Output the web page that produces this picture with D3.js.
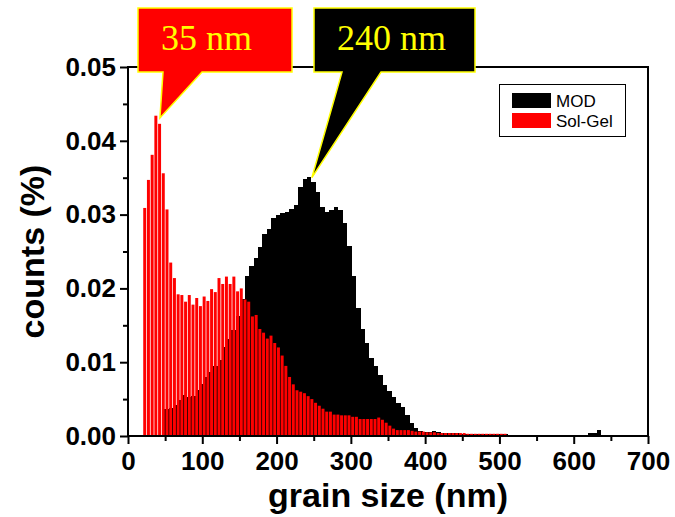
<!DOCTYPE html>
<html>
<head>
<meta charset="utf-8">
<script src="https://cdn.jsdelivr.net/npm/d3@7"></script>
<style>
  html, body { margin: 0; padding: 0; background: #fff; }
  svg { display: block; }
</style>
</head>
<body>
<svg id="chart" width="675" height="517"></svg>
<script>
// Sol-Gel grain size histogram: 5 nm bins starting at 20 nm
const solGelBinStart = 20;
const solGelBinWidth = 5;
const solGelCounts = [
  0.0309, 0.0347, 0.0381, 0.0434, 0.0423, 0.0356, 0.0307, 0.0235, 0.0214, 0.0192,
  0.0191, 0.0182, 0.0191, 0.0178, 0.0187, 0.0176, 0.0189, 0.0183, 0.0199, 0.0195,
  0.0214, 0.0206, 0.0216, 0.0206, 0.0216, 0.0196, 0.0200, 0.0185, 0.0182, 0.0162,
  0.0164, 0.0145, 0.0140, 0.0132, 0.0136, 0.0126, 0.0120, 0.0109, 0.0095, 0.0080,
  0.0070, 0.0062, 0.0060, 0.0058, 0.0054, 0.0050, 0.0045, 0.0041, 0.0037, 0.0033,
  0.0033, 0.0029, 0.0029, 0.0028, 0.0028, 0.0028, 0.0026, 0.0026, 0.0023, 0.0023,
  0.0023, 0.0023, 0.0023, 0.0025, 0.0022, 0.0018, 0.0014, 0.0010, 0.0008, 0.0008,
  0.0008, 0.0008, 0.0007, 0.0006, 0.0006, 0.0006, 0.0005, 0.0005, 0.0005, 0.0004,
  0.0004, 0.0004, 0.0004, 0.0004, 0.0004, 0.0004, 0.0004, 0.0003, 0.0003, 0.0003,
  0.0003, 0.0003, 0.0003, 0.0003, 0.0003, 0.0003, 0.0003, 0.0003
];

// MOD grain size histogram: 6 nm bins starting at 49 nm
const modBinStart = 49;
const modBinWidth = 6;
const modCounts = [
  0.0036, 0.0038, 0.0042, 0.0049, 0.0055, 0.0053, 0.0054, 0.0062, 0.0070, 0.0080,
  0.0087, 0.0095, 0.0103, 0.0120, 0.0132, 0.0144, 0.0162, 0.0185, 0.0217, 0.0231,
  0.0241, 0.0256, 0.0274, 0.0280, 0.0296, 0.0300, 0.0302, 0.0303, 0.0307, 0.0313,
  0.0337, 0.0348, 0.0351, 0.0344, 0.0331, 0.0310, 0.0303, 0.0306, 0.0310, 0.0306,
  0.0288, 0.0257, 0.0217, 0.0174, 0.0145, 0.0126, 0.0106, 0.0095, 0.0082, 0.0069,
  0.0061, 0.0053, 0.0045, 0.0039, 0.0028, 0.0017, 0.0011, 0.0007, 0.0005, 0.0005,
  0.0007, 0.0005, 0.0004, 0.0004, 0.0004, 0.0004, 0.0003, 0.0003, 0.0003, 0.0003,
  0.0003, 0.0003, 0.0003, 0.0003, 0.0003, 0.0003, 0.0003, 0, 0, 0,
  0, 0, 0, 0, 0, 0, 0, 0, 0, 0,
  0, 0, 0, 0, 0, 0.0004, 0.0004, 0.0008
];

// Axis ticks
const xTicks = [0, 100, 200, 300, 400, 500, 600, 700];
const xMinorTicks = [50, 150, 250, 350, 450, 550, 650];
const yTicks = [0, 0.01, 0.02, 0.03, 0.04, 0.05];
const yMinorTicks = [0.005, 0.015, 0.025, 0.035, 0.045];

// Legend entries and peak callouts (anchors in data units)
const legendItems = [
  { name: "MOD", color: "#000000" },
  { name: "Sol-Gel", color: "#ff0000" }
];
const callouts = [
  { text: "35 nm", fill: "#ff0000", tipX: 43, tipY: 0.0431,
    box: [138, 8, 292, 72], base: [163, 202], textX: 161 },
  { text: "240 nm", fill: "#000000", tipX: 247.5, tipY: 0.0350,
    box: [314, 8, 475, 72], base: [342, 381], textX: 337 }
];

const svg = d3.select("#chart");
const W = 675, H = 517;
const margin = { top: 67, right: 27, bottom: 81, left: 128 };

const x = d3.scaleLinear().domain([0, 700]).range([margin.left, W - margin.right]);
const y = d3.scaleLinear().domain([0, 0.05]).range([H - margin.bottom, margin.top]);

const font = "'Liberation Sans', Arial, sans-serif";
const serif = "'Liberation Serif', 'Times New Roman', serif";

// MOD bars (drawn behind, contiguous)
const modData = modCounts.map((v, i) => ({ x0: modBinStart + i * modBinWidth, v }));
svg.append("g")
  .attr("shape-rendering", "crispEdges")
  .selectAll("rect")
  .data(modData.filter(d => d.v > 0))
  .join("rect")
  .attr("x", d => x(d.x0))
  .attr("width", d => x(d.x0 + modBinWidth) - x(d.x0))
  .attr("y", d => y(d.v))
  .attr("height", d => y(0) - y(d.v))
  .attr("fill", "#000");

// Sol-Gel bars (drawn on top, with gaps)
const solData = solGelCounts.map((v, i) => ({ x0: solGelBinStart + i * solGelBinWidth, v }));
svg.append("g")
  .selectAll("rect")
  .data(solData)
  .join("rect")
  .attr("x", d => x(d.x0 + solGelBinWidth * 0.1))
  .attr("width", d => x(d.x0 + solGelBinWidth * 0.9) - x(d.x0 + solGelBinWidth * 0.1))
  .attr("y", d => y(d.v))
  .attr("height", d => y(0) - y(d.v))
  .attr("fill", "#ff0000");

// Frame
svg.append("rect")
  .attr("x", x(0)).attr("y", y(0.05))
  .attr("width", x(700) - x(0)).attr("height", y(0) - y(0.05))
  .attr("fill", "none").attr("stroke", "#000").attr("stroke-width", 2);

// Axes
const styleAxis = g => {
  g.select(".domain").remove();
  g.selectAll(".tick line").attr("stroke", "#000").attr("stroke-width", 2);
  g.selectAll(".tick text")
    .attr("font-family", font).attr("font-weight", "bold")
    .attr("font-size", 26).attr("fill", "#000");
};

svg.append("g")
  .attr("transform", `translate(0,${y(0)})`)
  .call(d3.axisBottom(x).tickValues(xMinorTicks).tickSize(5).tickFormat(""))
  .call(styleAxis);
svg.append("g")
  .attr("transform", `translate(0,${y(0)})`)
  .call(d3.axisBottom(x).tickValues(xTicks).tickSize(8).tickPadding(8).tickFormat(d3.format("d")))
  .call(styleAxis);

svg.append("g")
  .attr("transform", `translate(${x(0)},0)`)
  .call(d3.axisLeft(y).tickValues(yMinorTicks).tickSize(5).tickFormat(""))
  .call(styleAxis);
svg.append("g")
  .attr("transform", `translate(${x(0)},0)`)
  .call(d3.axisLeft(y).tickValues(yTicks).tickSize(8).tickPadding(4).tickFormat(d3.format(".2f")))
  .call(styleAxis);

// Axis titles
svg.append("text")
  .attr("x", (x(0) + x(700)) / 2).attr("y", 507)
  .attr("text-anchor", "middle")
  .attr("font-family", font).attr("font-weight", "bold").attr("font-size", 34)
  .text("grain size (nm)");

svg.append("text")
  .attr("transform", `translate(44,${(y(0) + y(0.05)) / 2}) rotate(-90)`)
  .attr("text-anchor", "middle")
  .attr("font-family", font).attr("font-weight", "bold").attr("font-size", 34)
  .text("counts (%)");

// Legend
const legend = svg.append("g");
legend.append("rect")
  .attr("x", 499.5).attr("y", 84.5).attr("width", 126).attr("height", 52)
  .attr("fill", "#fff").attr("stroke", "#000").attr("stroke-width", 1);
legendItems.forEach((d, i) => {
  legend.append("rect")
    .attr("x", 512).attr("y", 93 + i * 20).attr("width", 39).attr("height", 15)
    .attr("fill", d.color);
  legend.append("text")
    .attr("x", 556).attr("y", 106.5 + i * 20)
    .attr("font-family", font).attr("font-size", 17)
    .text(d.name);
});

// Peak callouts
callouts.forEach(c => {
  const [l, t, r, b] = c.box;
  const tx = x(c.tipX), ty = y(c.tipY);
  const p = d3.path();
  p.moveTo(l, t);
  p.lineTo(r, t);
  p.lineTo(r, b);
  p.lineTo(c.base[1], b);
  p.lineTo(tx, ty);
  p.lineTo(c.base[0], b);
  p.lineTo(l, b);
  p.closePath();
  svg.append("path")
    .attr("d", p.toString())
    .attr("fill", c.fill)
    .attr("stroke", "#ffff00").attr("stroke-width", 1.5)
    .attr("stroke-linejoin", "miter");
  svg.append("text")
    .attr("x", c.textX).attr("y", 50)
    .attr("font-family", serif).attr("font-size", 36)
    .attr("fill", "#ffff00")
    .text(c.text);
});
</script>
</body>
</html>
